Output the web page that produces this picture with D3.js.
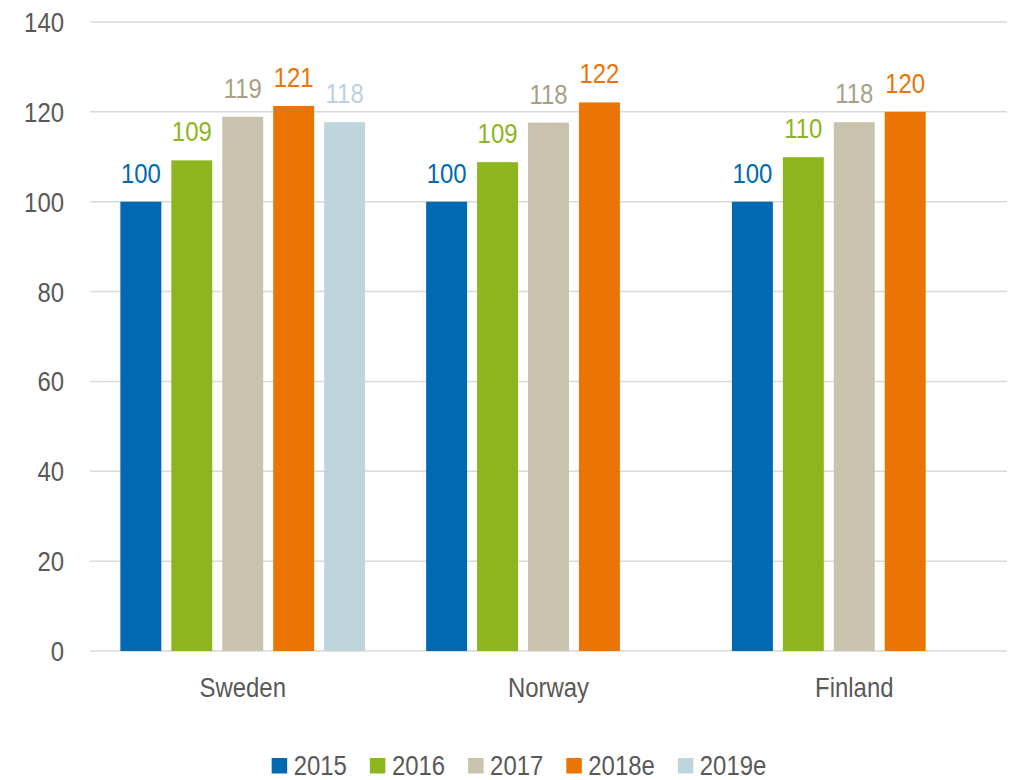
<!DOCTYPE html>
<html>
<head>
<meta charset="utf-8">
<script src="https://cdn.jsdelivr.net/npm/d3@7.9.0/dist/d3.min.js"></script>
<style>
  body { margin: 0; background: #fff; }
  text { font-family: "Liberation Sans", Arial, sans-serif; }
</style>
</head>
<body>
<svg id="chart" width="1013" height="780"></svg>
<script>
const countries = ['Sweden', 'Norway', 'Finland'];
const years = ['2015', '2016', '2017', '2018e', '2019e'];
const sweden = [100, 109.2, 118.9, 121.3, 117.7];
const norway = [100, 108.8, 117.6, 122.1];
const finland = [100, 109.9, 117.7, 120];
const yTicks = [0, 20, 40, 60, 80, 100, 120, 140];

const barColors = ['#0069b1', '#8cb51e', '#c9c2ad', '#ec7404', '#bed5dc'];
const labelColors = ['#0069b1', '#8cb51e', '#a89f85', '#ec7404', '#b9d3dc'];

const seriesByCountry = [sweden, norway, finland];
const bars = [];
countries.forEach((c, ci) => {
  seriesByCountry[ci].forEach((v, yi) => bars.push({ country: c, year: years[yi], idx: yi, value: v }));
});

const svg = d3.select('#chart');
const plotLeft = 90, plotRight = 1007, plotTop = 22, plotBottom = 651;
const fontSize = 27.5;
const narrow = 0.87; // squeeze text, no narrow font installed

const x = d3.scaleBand().domain(countries).range([plotLeft, plotRight])
  .paddingInner(0.167).paddingOuter(0.083);
const xInner = d3.scaleBand().domain(years).range([0, x.bandwidth()])
  .paddingInner(0.196).paddingOuter(0.098);
const y = d3.scaleLinear().domain([0, 140]).range([plotBottom, plotTop]);

const place = (px, py) => `translate(${px},${py}) scale(${narrow},1)`;

// grid
svg.append('g').selectAll('line').data(yTicks).join('line')
  .attr('x1', plotLeft).attr('x2', plotRight)
  .attr('y1', d => y(d)).attr('y2', d => y(d))
  .attr('stroke', '#d9d9d9').attr('stroke-width', 1.5);

// y axis labels
svg.append('g').selectAll('text').data(yTicks).join('text')
  .attr('transform', d => place(64, y(d) + 10))
  .attr('text-anchor', 'end')
  .attr('font-size', fontSize).attr('fill', '#595959')
  .text(d => d);

// bars
svg.append('g').selectAll('rect').data(bars).join('rect')
  .attr('x', d => x(d.country) + xInner(d.year))
  .attr('width', xInner.bandwidth())
  .attr('y', d => y(d.value))
  .attr('height', d => y(0) - y(d.value))
  .attr('fill', d => barColors[d.idx]);

// value labels
svg.append('g').selectAll('text').data(bars).join('text')
  .attr('transform', d => place(x(d.country) + xInner(d.year) + xInner.bandwidth() / 2, y(d.value) - 19))
  .attr('text-anchor', 'middle')
  .attr('font-size', fontSize)
  .attr('fill', d => labelColors[d.idx])
  .text(d => d3.format('.0f')(d.value));

// category labels
svg.append('g').selectAll('text').data(countries).join('text')
  .attr('transform', d => place(x(d) + x.bandwidth() / 2, 697))
  .attr('text-anchor', 'middle')
  .attr('font-size', fontSize).attr('fill', '#595959')
  .text(d => d);

// legend
const legend = svg.append('g');
let lx = 0;
years.forEach((yr, i) => {
  const g = legend.append('g').attr('transform', `translate(${lx},0)`);
  g.append('rect').attr('x', 0).attr('y', -17).attr('width', 15.5).attr('height', 15.5).attr('fill', barColors[i]);
  const t = g.append('text').attr('transform', place(22, 0))
    .attr('font-size', fontSize).attr('fill', '#595959').text(yr);
  lx += 22 + t.node().getComputedTextLength() * narrow + 23;
});
const legendWidth = lx - 23;
legend.attr('transform', `translate(${519 - legendWidth / 2},775)`);
</script>
</body>
</html>
